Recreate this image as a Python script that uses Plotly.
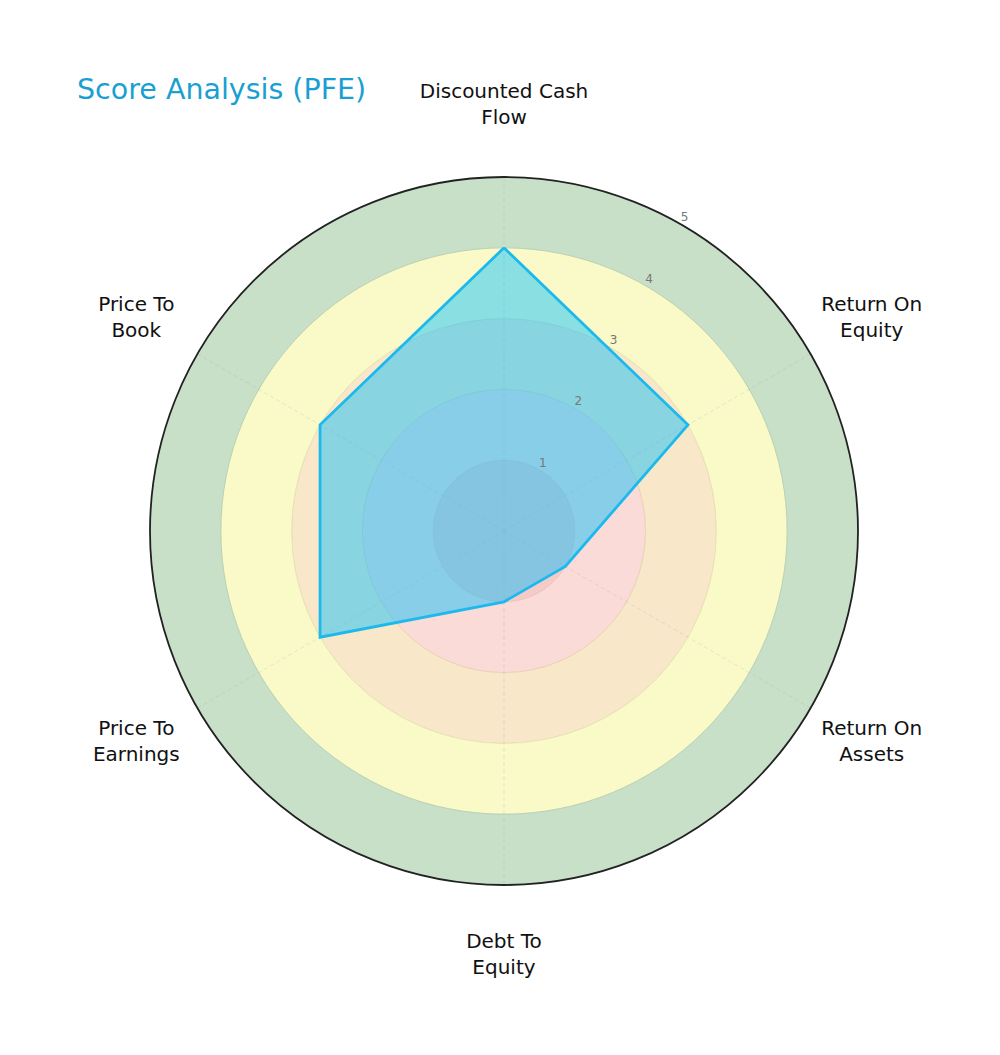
import plotly.graph_objects as go

# score categories, clockwise from the top
categories = ["Discounted Cash<br>Flow", "Return On<br>Equity", "Return On<br>Assets",
              "Debt To<br>Equity", "Price To<br>Earnings", "Price To<br>Book"]
angles = [0, 60, 120, 180, 240, 300]
scores = [4, 3, 1, 1, 3, 3]

# radial ticks
tick_vals = [1, 2, 3, 4, 5]
tick_text = ["1", "2", "3", "4", "5"]

# background score bands (inner edge, outer edge, colour)
band_low = [0, 1, 2, 3, 4]
band_high = [1, 2, 3, 4, 5]
band_colors = ["#f5cbc8", "#fadbd7", "#f8e7c8", "#fafac8", "#c8e0c8"]
band_lines = ["#e8b8b4", "#ecc6bf", "#e6d3b3", "#e3e3b3", "#b5cdb5"]

label_r = 6.0
font = "DejaVu Sans"

fig = go.Figure()

# coloured rings behind the polygon
for lo, hi, col, lcol in zip(band_low, band_high, band_colors, band_lines):
    fig.add_trace(go.Barpolar(
        r=[hi - lo], base=[lo], theta=[0], width=[360],
        marker=dict(color=col, line=dict(color=lcol, width=0.8)),
        hoverinfo="skip", showlegend=False,
    ))

# dashed spokes
for a in angles:
    fig.add_trace(go.Scatterpolar(
        r=[0, 5], theta=[a, a], mode="lines",
        line=dict(color="rgba(150,150,175,0.3)", width=0.7, dash="4px,3px"),
        hoverinfo="skip", showlegend=False,
    ))

# the score polygon
fig.add_trace(go.Scatterpolar(
    r=scores + scores[:1], theta=angles + angles[:1],
    mode="lines", fill="toself",
    fillcolor="rgba(0,191,255,0.45)",
    line=dict(color="#1cb9ee", width=2.8),
    showlegend=False,
))

# category labels on a second, invisible polar frame with the same scale
fig.add_trace(go.Scatterpolar(
    r=[label_r] * len(categories), theta=angles, subplot="polar2",
    mode="text", text=categories, textposition="middle center",
    textfont=dict(family=font, size=20, color="#111"),
    cliponaxis=False, hoverinfo="skip", showlegend=False,
))

# radial tick labels, a little outside each ring, 30 degrees from the top
fig.add_trace(go.Scatterpolar(
    r=[v + 0.1 for v in tick_vals], theta=[30] * len(tick_vals), subplot="polar2",
    mode="text", text=tick_text, textposition="middle center",
    textfont=dict(family=font, size=12, color="#777"),
    cliponaxis=False, hoverinfo="skip", showlegend=False,
))

hidden = dict(visible=False, showgrid=False, showline=False, showticklabels=False, ticks="")

fig.update_layout(
    width=1000, height=1055,
    paper_bgcolor="white",
    margin=dict(l=0, r=0, t=0, b=0),
    font=dict(family=font),
    title=dict(text="Score Analysis (PFE)", x=0.069, xanchor="left",
               y=1 - 81 / 1055, yanchor="middle", yref="container",
               pad=dict(l=0, r=0, t=0, b=0),
               font=dict(family=font, size=28.5, color="#1a9fd2")),
    barmode="overlay",
    polar=dict(
        domain=dict(x=[0.142, 0.850], y=[0.1687, 0.8398]),
        bgcolor="white",
        radialaxis=dict(
            range=[0, 5], tickvals=tick_vals, angle=60,
            showline=False, showticklabels=False, ticks="",
            gridcolor="#c8c8c8", griddash="dash", gridwidth=0.8,
            layer="above traces",
        ),
        angularaxis=dict(
            rotation=90, direction="clockwise",
            tickvals=angles, showticklabels=False, ticks="",
            showline=True, linecolor="#222", linewidth=1.8,
            gridcolor="#c8c8c8", griddash="dash", gridwidth=0.8,
            layer="above traces",
        ),
    ),
    polar2=dict(
        domain=dict(x=[0.036, 0.956], y=[0.0683, 0.9403]),
        bgcolor="rgba(0,0,0,0)",
        radialaxis=dict(range=[0, 6.5], **hidden),
        angularaxis=dict(rotation=90, direction="clockwise", **hidden),
    ),
)

fig.write_html("out.html")
